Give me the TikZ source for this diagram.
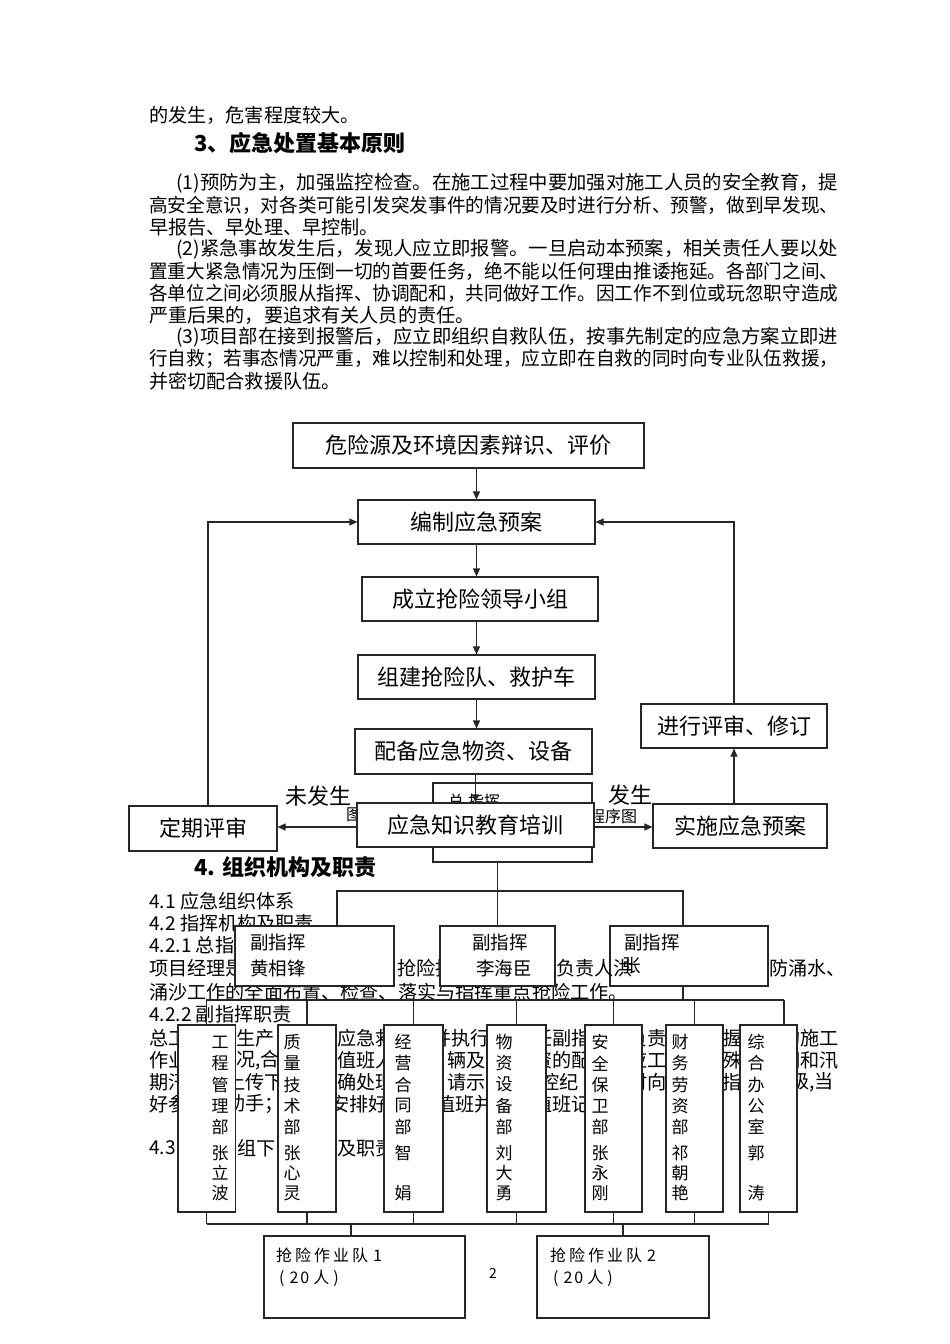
\documentclass[tikz,border=0pt]{standalone}
\usepackage{fontspec}
\setmainfont{Noto Sans CJK SC}
\usepackage{graphicx}
\usetikzlibrary{arrows.meta}
\newcommand\fsz[1]{\fontsize{#1}{#1}\selectfont}
\newcommand\fitw[2]{\resizebox{#1pt}{\height}{#2}}
\tikzset{
  ln/.style={draw=black!85, line width=1.1pt},
  arr/.style={ln, -{Triangle[length=8pt,width=7pt]}},
  bx/.style={ln, fill=white, inner sep=0pt, font=\fsz{22}},
  bt/.style={anchor=west, inner sep=0pt, font=\fsz{19.14}},
  st/.style={anchor=west, inner sep=0pt, font=\fsz{16}},
  dt/.style={inner sep=0pt, font=\fsz{17}},
}
\newcommand\bxat[7]{\node[bx, minimum width={#5-#3}, minimum height={#6-#4}, #1] (#2) at ({(#3+#5)/2},{(#4+#6)/2}) {#7};}
\newcommand\deptbox[6]{%
  \bxat{}{#1}{#2}{1025}{#3}{1212}{}
  \foreach \c [count=\i] in {#5} {\node[dt] (#1a\i) at (#4,{1042+21.3*(\i-1)}) {\c};}
  \foreach \c [count=\i] in {#6} {\node[dt] (#1b\i) at (#4,{1153+20*(\i-1)}) {\c};}
}
\begin{document}
\begin{tikzpicture}[x=1pt,y=-1pt]
\useasboundingbox (0,0) rectangle (950,1344);
\fill[white] (0,0) rectangle (950,1344);

% ---------- top text ----------
\node[bt] (t1) at (149,115) {的发生，危害程度较大。};
\node[bt,font=\fsz{22}\bfseries] (t2) at (194,143) {3、应急处置基本原则};
\node[bt] (t3) at (176,183) {\fitw{662}{(1)预防为主，加强监控检查。在施工过程中要加强对施工人员的安全教育，提}};
\node[bt] (t4) at (149,205) {\fitw{689}{高安全意识，对各类可能引发突发事件的情况要及时进行分析、预警，做到早发现、}};
\node[bt] (t5) at (149,227) {早报告、早处理、早控制。};
\node[bt] (t6) at (176,249) {\fitw{662}{(2)紧急事故发生后，发现人应立即报警。一旦启动本预案，相关责任人要以处}};
\node[bt] (t7) at (149,271) {\fitw{689}{置重大紧急情况为压倒一切的首要任务，绝不能以任何理由推诿拖延。各部门之间、}};
\node[bt] (t8) at (149,293) {\fitw{689}{各单位之间必须服从指挥、协调配和，共同做好工作。因工作不到位或玩忽职守造成}};
\node[bt] (t9) at (149,315) {严重后果的，要追求有关人员的责任。};
\node[bt] (t10) at (176,337) {\fitw{662}{(3)项目部在接到报警后，应立即组织自救队伍，按事先制定的应急方案立即进}};
\node[bt] (t11) at (149,359) {\fitw{689}{行自救；若事态情况严重，难以控制和处理，应立即在自救的同时向专业队伍救援，}};
\node[bt] (t12) at (149,381) {并密切配合救援队伍。};

% ---------- flowchart ----------
\bxat{}{zz}{433}{783}{592}{862}{}
\node[st] (zzt) at (448,801) {总\hspace{4pt}指挥};
\node[st] (fg1) at (346,815) {图};
\node[st] (fg2) at (589,816) {程序图};
\bxat{}{A}{293}{423}{644}{468}{危险源及环境因素辩识、评价}
\bxat{}{B}{358}{500}{595}{544}{编制应急预案}
\bxat{}{C}{362}{577}{598}{621}{成立抢险领导小组}
\bxat{}{D}{358}{655}{595}{699}{组建抢险队、救护车}
\bxat{}{E}{355}{729}{592}{774}{配备应急物资、设备}
\bxat{}{edu}{357}{803}{594}{847}{应急知识教育培训}
\bxat{}{dq}{129}{806}{277}{851}{定期评审}
\bxat{}{impl}{653}{804}{827}{848}{实施应急预案}
\bxat{}{rv}{641}{704}{827}{748}{进行评审、修订}
\draw[arr] (B.north |- A.south) -- (B.north);
\draw[arr] (B.south) -- (B.south |- C.north);
\draw[arr] (D.north |- C.south) -- (D.north);
\draw[arr] (D.south) -- (D.south |- E.north);
\draw[arr] (edu.north |- E.south) -- (edu.north);
\draw[arr] ([yshift=-2pt]edu.west) -- ([yshift=-2pt]edu.west -| dq.east);
\draw[arr] ([yshift=-2pt]edu.east) -- ([yshift=-2pt]edu.east -| impl.west);
\draw[arr] (rv.south |- impl.north) -- (rv.south);
\draw[arr] (rv.north) |- (B.east);
\draw[arr] ([xshift=5pt]dq.north) |- (B.west);
\node[bt,font=\fsz{22}] (nf) at (285,796) {未发生};
\node[bt,font=\fsz{22}] (yf) at (608,795) {发生};
\node[bt,font=\fsz{22}\bfseries] (h4) at (194,867) {4. 组织机构及职责};

% ---------- text under the org chart ----------
\node[bt] (r01) at (149,901) {4.1 应急组织体系};
\node[bt] (r02) at (149,923) {4.2 指挥机构及职责};
\node[bt] (r03) at (149,945) {4.2.1 总指};
\node[bt] (r04a) at (149,968) {项目经理是};
\node[bt] (r04b) at (397,968) {抢险指};
\node[bt] (r04d) at (769,968) {防涌水、};
\node[bt] (r05) at (149,992) {涌沙工作的全面布置、检查、落实与指挥重点抢险工作。};
\node[bt] (r06) at (149,1014) {4.2.2 副指挥职责};
% row 1
\node[bt] (r1a) at (149,1038) {总工};
\node[bt] (r1b) at (236,1038) {生产};
\node[bt] (r1c) at (337,1038) {应急救};
\node[bt] (r1d) at (432,1038) {并执行};
\node[bt] (r1e) at (533,1038) {任副指};
\node[bt] (r1f) at (628,1038) {负责};
\node[bt] (r1g) at (723,1038) {握};
\node[bt] (r1h) at (781,1038) {的施工};
% row 2
\node[bt] (r2a) at (149,1060) {作业};
\node[bt] (r2b) at (236,1060) {况,合};
\node[bt] (r2c) at (337,1060) {值班人};
\node[bt] (r2d) at (447,1060) {辆及};
\node[bt] (r2e) at (533,1060) {资的配};
\node[bt] (r2f) at (628,1060) {应工};
\node[bt] (r2g) at (723,1060) {殊};
\node[bt] (r2h) at (781,1060) {期和汛};
% row 3
\node[bt] (r3a) at (149,1082) {期汛};
\node[bt] (r3b) at (226,1082) {上传下};
\node[bt] (r3c) at (337,1082) {确处理};
\node[bt] (r3d) at (447,1082) {请示};
\node[bt] (r3e) at (540,1082) {控纪};
\node[bt] (r3f) at (628,1082) {时向};
\node[bt] (r3g) at (722,1082) {指};
\node[bt] (r3h) at (790,1082) {级,当};
% row 4
\node[bt] (r4a) at (149,1104) {好参};
\node[bt] (r4b) at (226,1104) {助手；};
\node[bt] (r4c) at (330,1104) {安排好};
\node[bt] (r4d) at (436,1104) {值班并};
\node[bt] (r4e) at (533,1104) {值班记};
% row 4.3
\node[bt] (r5a) at (149,1148) {4.3};
\node[bt] (r5b) at (237,1148) {组下};
\node[bt] (r5c) at (337,1148) {及职责};

% ---------- org chart ----------
\bxat{}{fz1}{235}{926}{394}{986}{}
\bxat{}{fz2}{440}{926}{555}{986}{}
\bxat{}{fz3}{610}{926}{768}{986}{}
\node[bt] (r04c) at (556,968) {负责人洪};
\node[bt,font=\fsz{18.5}] (fz1a) at (250,942) {副指挥};
\node[bt,font=\fsz{18.5}] (fz1b) at (250,968) {黄相锋};
\node[bt,font=\fsz{18.5}] (fz2a) at (472,942) {副指挥};
\node[bt,font=\fsz{18.5}] (fz2b) at (476,968) {李海臣};
\node[bt,font=\fsz{18.5}] (fz3a) at (624,942) {副指挥};
\node[bt,font=\fsz{18.5}] (fz3b) at (622,966) {张};

\coordinate (ubL) at (337,891);
\coordinate (ubR) at (683,891);
\draw[ln] (fz2.north |- zz.south) -- (fz2.north);
\draw[ln] (ubL |- fz1.north) -- (ubL) -- (ubR) -- (ubR |- fz3.north);
\coordinate (lbL) at (206,1000);
\coordinate (lbR) at (784,1000);
\draw[ln] (lbL) -- (lbR);
\draw[ln] (ubR |- fz3.south) -- (ubR |- lbL);

\deptbox{d1}{178}{235.5}{220}{工,程,管,理,部}{张,立,波}
\deptbox{d2}{278}{336}{292}{质,量,技,术,部}{张,心,灵}
\deptbox{d3}{384}{443}{403}{经,营,合,同,部}{智,{},娟}
\deptbox{d4}{487}{546}{504}{物,资,设,备,部}{刘,大,勇}
\deptbox{d5}{585}{642}{600}{安,全,保,卫,部}{张,永,刚}
\deptbox{d6}{666}{723}{680}{财,务,劳,资,部}{祁,朝,艳}
\deptbox{d7}{740}{797}{756}{综,合,办,公,室}{郭,{},涛}

\foreach \d in {d1,d2,d3,d4,d5,d6} {\draw[ln] (\d.north) -- (\d.north |- lbL);}
\draw[ln] ([xshift=15.5pt]d7.north) -- ([xshift=15.5pt]d7.north |- lbL);

\coordinate (bbL) at (207,1224);
\coordinate (bbR) at (769,1224);
\draw[ln] (bbL) -- (bbR);
\foreach \d in {d1,d2,d3,d4,d5,d6,d7} {\draw[ln] (\d.south) -- (\d.south |- bbL);}

\bxat{}{tm1}{264}{1236}{465}{1318}{}
\bxat{}{tm2}{537}{1236}{709}{1318}{}
\draw[ln] ([xshift=-13.5pt]tm1.north) -- ([xshift=-13.5pt]tm1.north |- bbL);
\draw[ln] (tm2.north) -- (tm2.north |- bbL);
\node[st] (tm1a) at (276,1255) {抢\hspace{3pt}险\hspace{3pt}作\hspace{3pt}业\hspace{3pt}队\hspace{5pt}1};
\node[st] (tm1b) at (279,1278) {(\hspace{5pt}2\hspace{2pt}0\hspace{4pt}人\hspace{4pt})};
\node[st] (tm2a) at (550,1255) {抢\hspace{3pt}险\hspace{3pt}作\hspace{3pt}业\hspace{3pt}队\hspace{5pt}2};
\node[st] (tm2b) at (553,1278) {(\hspace{5pt}2\hspace{2pt}0\hspace{4pt}人\hspace{4pt})};
\node[inner sep=0pt, font=\fsz{14}] (pg) at (493,1273) {2};
\end{tikzpicture}
\end{document}
